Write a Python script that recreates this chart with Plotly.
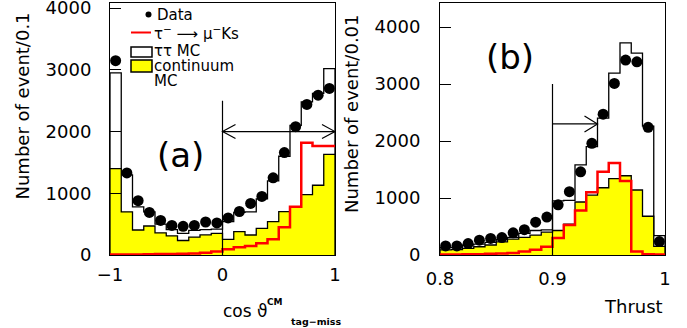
import numpy as np
import plotly.graph_objects as go

W, H = 687, 328
FONT = "DejaVu Sans"

# ---------------- data ----------------
# panel (a): cos theta_CM(tag-miss), 20 bins of 0.1 from -1 to 1
a_lo, a_hi, a_nbins = -1.0, 1.0, 20
a_data    = [3150, 1330, 880, 690, 560, 480, 465, 480, 535, 520,
             600, 705, 835, 950, 1250, 1660, 2080, 2440, 2590, 2700]
a_tautau  = [2950, 1300, 780, 700, 500, 410, 350, 400, 410, 420,
             540, 690, 700, 910, 1200, 1600, 2100, 2480, 2620, 3020]
a_cont    = [1400, 700, 405, 470, 360, 310, 235, 290, 325, 350,
             254, 378, 324, 432, 540, 702, 783, 980, 1130, 1630]
a_signal  = [10, 10, 10, 12, 15, 18, 20, 25, 35, 55,
             92, 124, 146, 189, 254, 448, 783, 1820, 1767, 1767]

# panel (b): thrust, 20 bins of 0.01 from 0.8 to 1.0
b_lo, b_hi, b_nbins = 0.8, 1.0, 20
b_data    = [160, 160, 200, 260, 290, 305, 390, 445, 575, 665,
             880, 1110, 1460, 1960, 2470, 3010, 3420, 3390, 2240, 235]
b_tautau  = [130, 130, 175, 190, 220, 275, 310, 380, 430, 440,
             950, 960, 1580, 1900, 2400, 3190, 3720, 3540, 2260, 340]
b_cont    = [90, 95, 115, 145, 175, 230, 280, 310, 350, 400,
             430, 540, 930, 1050, 1180, 1340, 1390, 1140, 680, 150]
b_signal  = [10, 10, 15, 15, 20, 25, 35, 60, 90, 146,
             300, 526, 780, 1100, 1462, 1615, 1300, 60, 15, 10]

a_yticks = [0, 1000, 2000, 3000, 4000]
b_yticks = [0, 1000, 2000, 3000, 4000]
a_xticks = [-1, 0, 1]
b_xticks = [0.8, 0.9, 1.0]
b_xticklabels = ["0.8", "0.9", "1"]

# selection cuts
a_cut, a_arrow_y, a_cut_top = 0.0, 2000, 2500
b_cut, b_arrow_y, b_cut_top, b_arrow_end = 0.9, 2300, 3000, 0.94


def step_xy(edges, vals, close=True):
    vals = list(vals)
    if close:
        x = [edges[0]] + list(edges) + [edges[-1]]
        y = [0] + vals + [vals[-1], 0]
    else:
        x = list(edges)
        y = vals + [vals[-1]]
    return x, y


fig = go.Figure()

for (lo, hi, nb, data, tt, cont, sig, xa, ya) in [
        (a_lo, a_hi, a_nbins, a_data, a_tautau, a_cont, a_signal, "x", "y"),
        (b_lo, b_hi, b_nbins, b_data, b_tautau, b_cont, b_signal, "x2", "y2")]:
    edges = np.linspace(lo, hi, nb + 1)
    centers = 0.5 * (edges[:-1] + edges[1:])
    x, y = step_xy(edges, tt)
    fig.add_trace(go.Scatter(x=x, y=y, mode="lines", line_shape="hv",
                             fill="tozeroy", fillcolor="white",
                             line=dict(color="black", width=1.3),
                             xaxis=xa, yaxis=ya, showlegend=False))
    x, y = step_xy(edges, cont)
    fig.add_trace(go.Scatter(x=x, y=y, mode="lines", line_shape="hv",
                             fill="tozeroy", fillcolor="#ffff00",
                             line=dict(color="black", width=1.3),
                             xaxis=xa, yaxis=ya, showlegend=False))
    x, y = step_xy(edges, sig, close=False)
    fig.add_trace(go.Scatter(x=x, y=y, mode="lines", line_shape="hv",
                             line=dict(color="#ff0000", width=2.5),
                             xaxis=xa, yaxis=ya, showlegend=False))
    fig.add_trace(go.Scatter(x=centers, y=data, mode="markers",
                             marker=dict(color="black", size=11),
                             cliponaxis=False,
                             xaxis=xa, yaxis=ya, showlegend=False))

axis_common = dict(showline=True, mirror=True, linecolor="black", linewidth=1,
                   ticks="inside", ticklen=11, tickwidth=1, tickcolor="black",
                   showgrid=False, zeroline=False, automargin=False,
                   ticklabeloverflow="allow",
                   tickfont=dict(family=FONT, size=18, color="black"))

ydom = [1 - 255 / H, 1 - 3 / H]
fig.update_layout(
    width=W, height=H, margin=dict(l=0, r=0, t=0, b=0, autoexpand=False),
    paper_bgcolor="white", plot_bgcolor="white", showlegend=False,
    xaxis=dict(domain=[110 / W, 335 / W], range=[a_lo, a_hi], anchor="y",
               tickvals=a_xticks, ticklabelstandoff=3, **axis_common),
    yaxis=dict(domain=ydom, range=[0, 4084], anchor="x",
               tickvals=a_yticks, ticklabelstandoff=14, **axis_common),
    xaxis2=dict(domain=[440 / W, 665 / W], range=[b_lo, b_hi], anchor="y2",
                tickvals=b_xticks, ticktext=b_xticklabels,
                ticklabelstandoff=7, **axis_common),
    yaxis2=dict(domain=ydom, range=[0, 4421], anchor="x2",
                tickvals=b_yticks, ticklabelstandoff=15, **axis_common),
)

shapes = []
blk = dict(color="black", width=1.2)
# cut lines and arrows
shapes.append(dict(type="line", xref="x", yref="y", x0=a_cut, x1=a_cut,
                   y0=0, y1=a_cut_top, line=blk))
shapes.append(dict(type="line", xref="x", yref="y", x0=a_cut, x1=a_hi,
                   y0=a_arrow_y, y1=a_arrow_y, line=blk))
shapes.append(dict(type="path", xref="x", yref="y", xsizemode="pixel",
                   ysizemode="pixel", xanchor=a_hi, yanchor=a_arrow_y,
                   path="M -13 7 L 0 0 L -13 -7", line=blk))
shapes.append(dict(type="path", xref="x", yref="y", xsizemode="pixel",
                   ysizemode="pixel", xanchor=a_cut, yanchor=a_arrow_y,
                   path="M 13 7 L 0 0 L 13 -7", line=blk))
shapes.append(dict(type="line", xref="x2", yref="y2", x0=b_cut, x1=b_cut,
                   y0=0, y1=b_cut_top, line=blk))
shapes.append(dict(type="line", xref="x2", yref="y2", x0=b_cut, x1=b_arrow_end,
                   y0=b_arrow_y, y1=b_arrow_y, line=blk))
shapes.append(dict(type="path", xref="x2", yref="y2", xsizemode="pixel",
                   ysizemode="pixel", xanchor=b_arrow_end, yanchor=b_arrow_y,
                   path="M -13 8 L 0 0 L -13 -8", line=blk))


def px(v):
    return v / W


def py(v):
    return 1 - v / H


# legend (drawn by hand, paper coordinates)
shapes.append(dict(type="circle", xref="paper", yref="paper",
                   x0=px(145.5), x1=px(151.5), y0=py(11.5), y1=py(17.5),
                   fillcolor="black", line=dict(color="black", width=0)))
shapes.append(dict(type="line", xref="paper", yref="paper",
                   x0=px(131), x1=px(151), y0=py(32.5), y1=py(32.5),
                   line=dict(color="#ff0000", width=2)))
shapes.append(dict(type="rect", xref="paper", yref="paper",
                   x0=px(131), x1=px(152), y0=py(57), y1=py(47),
                   fillcolor="white", line=dict(color="black", width=1.5)))
shapes.append(dict(type="rect", xref="paper", yref="paper",
                   x0=px(131), x1=px(152), y0=py(72), y1=py(60),
                   fillcolor="#ffff00", line=dict(color="black", width=1.5)))
fig.update_layout(shapes=shapes)

ann = []


def text(x, y, s, size, xanchor="left", yanchor="middle", angle=0, bold=False):
    ann.append(dict(x=px(x), y=py(y), xref="paper", yref="paper", text=s,
                    showarrow=False, xanchor=xanchor, yanchor=yanchor,
                    textangle=angle, borderpad=0,
                    font=dict(family=FONT, size=size, color="black",
                              weight="bold" if bold else "normal")))


text(156, 15, "Data", 15)
text(153, 33, "τ<sup>−</sup> ⟶ μ<sup>−</sup>Ks", 15)
text(153, 51, "ττ MC", 15)
text(153, 66, "continuum", 15)
text(153, 81, "MC", 15)

text(180, 155, "(a)", 34, xanchor="center")
text(510, 57, "(b)", 34, xanchor="center")

text(22, 106.5, "Number of event/0.1", 18, xanchor="center", angle=-90)
text(352, 114, "Number of event/0.01", 18, xanchor="center", angle=-90)

text(222, 311, "cos ϑ", 17)
text(266, 302, "CM", 9, bold=True)
text(290, 321, "tag−miss", 9.5, bold=True)
text(664, 306, "Thrust", 18, xanchor="right")

fig.update_layout(annotations=ann)
fig.write_html("out.html")
